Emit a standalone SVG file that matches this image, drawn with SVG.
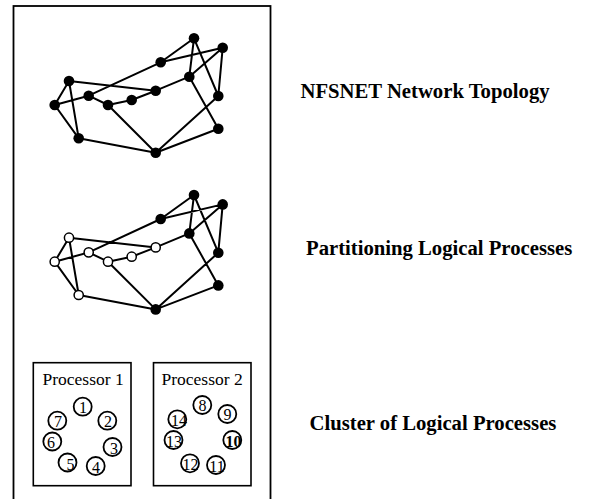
<svg xmlns="http://www.w3.org/2000/svg" width="591" height="499" viewBox="0 0 591 499">
<style>
.frame{fill:none;stroke:#000;stroke-width:1.8}
.box{fill:#fff;stroke:#000;stroke-width:1.6}
.edge{stroke:#000;stroke-width:2;fill:none;stroke-linecap:round}
.n{fill:#000}
.o{fill:#fff;stroke:#000;stroke-width:1.5}
.lp{fill:none;stroke:#000;stroke-width:1.8}
.lbl{font-family:"Liberation Serif","Times New Roman",serif;font-weight:bold;font-size:20.7px;fill:#000}
.pt{font-family:"Liberation Serif","Times New Roman",serif;font-size:17.5px;fill:#000}
.num{font-family:"Liberation Serif","Times New Roman",serif;font-size:16px;fill:#000;text-anchor:middle}
</style>
<rect class="frame" x="13.5" y="6" width="257" height="520"/>

<g id="connectors">
  <g id="top-edges">
    <path class="edge" d="M194,38.3L160.7,62.3 M194,38.3L189.3,76.7 M194,38.3L218.3,96 M160.7,62.3L222.7,47.7 M222.7,47.7L189.3,76.7 M222.7,47.7L218.3,96 M189.3,76.7L155.7,90.7 M155.7,90.7L131.7,100 M131.7,100L108,105 M108,105L155.7,152.7 M189.3,76.7L218.3,128.7 M218.3,96L155.7,152.7 M218.3,128.7L155.7,152.7 M155.7,152.7L78.7,138.3 M78.7,138.3L54.7,105 M54.7,105L69,81 M69,81L78.7,138.3 M69,81L155.7,90.7 M54.7,105L88.7,95.7 M88.7,95.7L160.7,62.3 M88.7,95.7L108,105"/>
  </g>
  <g id="mid-edges" transform="translate(0,156.7)">
    <path class="edge" d="M194,38.3L160.7,62.3 M194,38.3L189.3,76.7 M194,38.3L218.3,96 M160.7,62.3L222.7,47.7 M222.7,47.7L189.3,76.7 M222.7,47.7L218.3,96 M189.3,76.7L155.7,90.7 M155.7,90.7L131.7,100 M131.7,100L108,105 M108,105L155.7,152.7 M189.3,76.7L218.3,128.7 M218.3,96L155.7,152.7 M218.3,128.7L155.7,152.7 M155.7,152.7L78.7,138.3 M78.7,138.3L54.7,105 M54.7,105L69,81 M69,81L78.7,138.3 M69,81L155.7,90.7 M54.7,105L88.7,95.7 M88.7,95.7L160.7,62.3 M88.7,95.7L108,105"/>
  </g>
</g>

<g id="topology">
  <g id="t-A"><circle class="n" cx="194" cy="38.3" r="5.3"/></g>
  <g id="t-B"><circle class="n" cx="222.7" cy="47.7" r="5.3"/></g>
  <g id="t-C"><circle class="n" cx="160.7" cy="62.3" r="5.3"/></g>
  <g id="t-D"><circle class="n" cx="189.3" cy="76.7" r="5.3"/></g>
  <g id="t-E"><circle class="n" cx="69" cy="81" r="5.3"/></g>
  <g id="t-F"><circle class="n" cx="155.7" cy="90.7" r="5.3"/></g>
  <g id="t-G"><circle class="n" cx="218.3" cy="96" r="5.3"/></g>
  <g id="t-H"><circle class="n" cx="88.7" cy="95.7" r="5.3"/></g>
  <g id="t-I"><circle class="n" cx="131.7" cy="100" r="5.3"/></g>
  <g id="t-J"><circle class="n" cx="108" cy="105" r="5.3"/></g>
  <g id="t-K"><circle class="n" cx="54.7" cy="105" r="5.3"/></g>
  <g id="t-L"><circle class="n" cx="218.3" cy="128.7" r="5.3"/></g>
  <g id="t-M"><circle class="n" cx="78.7" cy="138.3" r="5.3"/></g>
  <g id="t-N"><circle class="n" cx="155.7" cy="152.7" r="5.3"/></g>
</g>

<g id="partition" transform="translate(0,156.7)">
  <g id="p-A"><circle class="n" cx="194" cy="38.3" r="5.3"/></g>
  <g id="p-B"><circle class="n" cx="222.7" cy="47.7" r="5.3"/></g>
  <g id="p-C"><circle class="n" cx="160.7" cy="62.3" r="5.3"/></g>
  <g id="p-D"><circle class="n" cx="189.3" cy="76.7" r="5.3"/></g>
  <g id="p-E"><circle class="o" cx="69" cy="81" r="4.6"/></g>
  <g id="p-F"><circle class="o" cx="155.7" cy="90.7" r="4.6"/></g>
  <g id="p-G"><circle class="n" cx="218.3" cy="96" r="5.3"/></g>
  <g id="p-H"><circle class="o" cx="88.7" cy="95.7" r="4.6"/></g>
  <g id="p-I"><circle class="o" cx="131.7" cy="100" r="4.6"/></g>
  <g id="p-J"><circle class="o" cx="108" cy="105" r="4.6"/></g>
  <g id="p-K"><circle class="o" cx="54.7" cy="105" r="4.6"/></g>
  <g id="p-L"><circle class="n" cx="218.3" cy="128.7" r="5.3"/></g>
  <g id="p-M"><circle class="o" cx="78.7" cy="138.3" r="4.6"/></g>
  <g id="p-N"><circle class="n" cx="155.7" cy="152.7" r="5.3"/></g>
</g>

<g id="processor1">
  <rect class="box" x="33.3" y="362.7" width="97.7" height="123"/>
  <text class="pt" x="42.5" y="385">Processor 1</text>
  <g id="lp1"><circle class="lp" cx="82.7" cy="406.7" r="9"/><text class="num" x="83" y="412.5">1</text></g>
  <g id="lp2"><circle class="lp" cx="107.3" cy="420.7" r="9"/><text class="num" x="108" y="426.5">2</text></g>
  <g id="lp3"><circle class="lp" cx="112.5" cy="447" r="9"/><text class="num" x="114" y="453.5">3</text></g>
  <g id="lp4"><circle class="lp" cx="95.7" cy="466" r="9"/><text class="num" x="96" y="473">4</text></g>
  <g id="lp5"><circle class="lp" cx="67.5" cy="462.5" r="9"/><text class="num" x="70.5" y="469.5">5</text></g>
  <g id="lp6"><circle class="lp" cx="52.3" cy="441.5" r="9"/><text class="num" x="51" y="448">6</text></g>
  <g id="lp7"><circle class="lp" cx="57.3" cy="420.7" r="9"/><text class="num" x="58" y="426.5">7</text></g>
</g>

<g id="processor2">
  <rect class="box" x="153.5" y="362.7" width="97.5" height="123"/>
  <text class="pt" x="161.5" y="385">Processor 2</text>
  <g id="lp8"><circle class="lp" cx="202.3" cy="405" r="9"/><text class="num" x="202.5" y="410.5">8</text></g>
  <g id="lp9"><circle class="lp" cx="227.3" cy="414" r="9"/><text class="num" x="227.5" y="420">9</text></g>
  <g id="lp10"><circle class="lp" cx="232.3" cy="440" r="9"/><text class="num" x="233.5" y="446.5" font-weight="bold">10</text></g>
  <g id="lp11"><circle class="lp" cx="216" cy="465" r="9"/><text class="num" x="217" y="471.5">11</text></g>
  <g id="lp12"><circle class="lp" cx="190" cy="463.3" r="9"/><text class="num" x="190.5" y="469.5">12</text></g>
  <g id="lp13"><circle class="lp" cx="173.5" cy="440" r="9"/><text class="num" x="174" y="446.5">13</text></g>
  <g id="lp14"><circle class="lp" cx="177.3" cy="419.3" r="9"/><text class="num" x="179" y="426">14</text></g>
</g>

<g id="labels">
  <text class="lbl" x="300.5" y="97.5">NFSNET Network Topology</text>
  <text class="lbl" x="306" y="255">Partitioning Logical Processes</text>
  <text class="lbl" x="309.5" y="430">Cluster of Logical Processes</text>
</g>
</svg>
